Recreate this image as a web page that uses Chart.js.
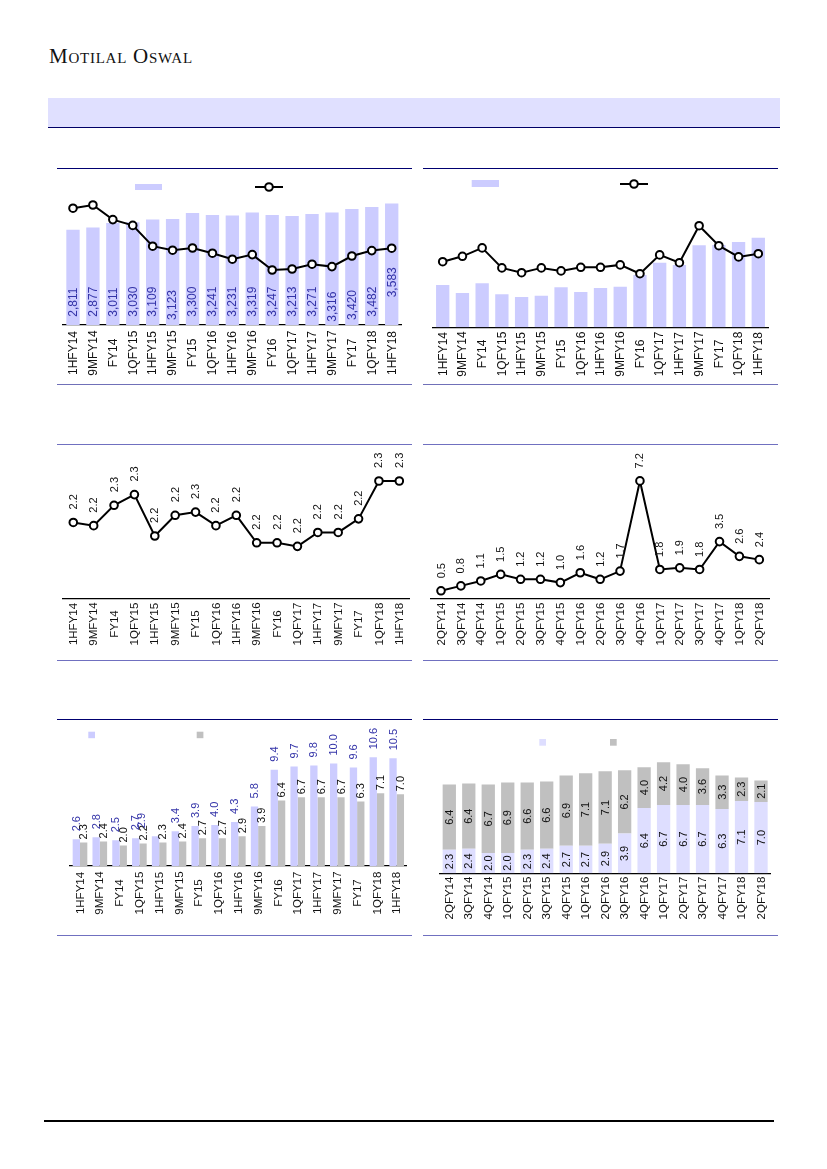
<!DOCTYPE html>
<html><head><meta charset="utf-8">
<script src="https://cdn.jsdelivr.net/npm/chart.js@4.4.0/dist/chart.umd.min.js"></script>
<style>
html,body{margin:0;padding:0;background:#fff;}
body{width:827px;height:1169px;position:relative;overflow:hidden;font-family:"Liberation Sans",Arial,sans-serif;}
canvas{position:absolute;}
.logo{position:absolute;left:49px;top:46px;line-height:21px;font-family:"Liberation Serif","Times New Roman",serif;font-variant:small-caps;font-size:21px;color:#111;letter-spacing:0.75px;white-space:nowrap;}
.band{position:absolute;left:48px;top:98px;width:732px;height:29px;background:#e0e0ff;border-bottom:1.5px solid #000066;}
.hl{position:absolute;height:1px;}
</style></head><body>
<div class="logo">Motilal Oswal</div>
<div class="band"></div>
<div class="hl" style="left:57px;top:168px;width:355px;background:#000070"></div>
<div class="hl" style="left:423px;top:168px;width:355px;background:#000070"></div>
<div class="hl" style="left:57px;top:384px;width:355px;background:#7070b8"></div>
<div class="hl" style="left:423px;top:384px;width:355px;background:#7070b8"></div>
<div class="hl" style="left:57px;top:444px;width:355px;background:#7070c0"></div>
<div class="hl" style="left:423px;top:444px;width:355px;background:#7070c0"></div>
<div class="hl" style="left:57px;top:660px;width:355px;background:#7070c0"></div>
<div class="hl" style="left:423px;top:660px;width:355px;background:#7070c0"></div>
<div class="hl" style="left:57px;top:719px;width:355px;background:#000070"></div>
<div class="hl" style="left:423px;top:719px;width:355px;background:#000070"></div>
<div class="hl" style="left:57px;top:935px;width:355px;background:#7070c0"></div>
<div class="hl" style="left:423px;top:935px;width:355px;background:#7070c0"></div>
<div class="hl" style="left:44px;top:1120px;width:730px;height:1.5px;background:#000"></div>

<canvas id="c1" width="354" height="212" style="left:58px;top:170px"></canvas>
<canvas id="c2" width="355" height="213" style="left:423px;top:170px"></canvas>
<canvas id="c3" width="354" height="212" style="left:58px;top:446px"></canvas>
<canvas id="c4" width="355" height="212" style="left:423px;top:446px"></canvas>
<canvas id="c5" width="354" height="212" style="left:58px;top:721px"></canvas>
<canvas id="c6" width="355" height="213" style="left:423px;top:721px"></canvas>

<script>
// ---------- data ----------
const periodsA = ["1HFY14","9MFY14","FY14","1QFY15","1HFY15","9MFY15","FY15","1QFY16","1HFY16","9MFY16","FY16","1QFY17","1HFY17","9MFY17","FY17","1QFY18","1HFY18"];
const quartersB = ["2QFY14","3QFY14","4QFY14","1QFY15","2QFY15","3QFY15","4QFY15","1QFY16","2QFY16","3QFY16","4QFY16","1QFY17","2QFY17","3QFY17","4QFY17","1QFY18","2QFY18"];

// chart 1
const c1Bars = [2811,2877,3011,3030,3109,3123,3300,3241,3231,3319,3247,3213,3271,3316,3420,3482,3583];
const c1Line = [5.84,6.00,5.27,4.98,3.94,3.74,3.85,3.59,3.29,3.52,2.75,2.80,3.04,2.92,3.45,3.72,3.84];
// chart 2
const c2Bars = [21.2,17.2,22.0,16.5,15.2,15.8,20.0,17.7,19.7,20.3,26.2,32.3,31.2,41.0,41.2,42.7,44.8];
const c2Line = [3.28,3.55,3.97,2.97,2.73,2.97,2.82,3.00,3.00,3.12,2.68,3.62,3.23,5.08,4.08,3.52,3.68];
// chart 3
const c3Line = [2.225,2.216,2.273,2.303,2.187,2.245,2.254,2.216,2.245,2.168,2.168,2.158,2.197,2.197,2.235,2.341,2.341];
// chart 4
const c4Line = [0.5,0.8,1.1,1.5,1.2,1.2,1.0,1.6,1.2,1.7,7.2,1.8,1.9,1.8,3.5,2.6,2.4];
// chart 5
const c5Light = [2.6,2.8,2.5,2.7,2.9,3.4,3.9,4.0,4.3,5.8,9.4,9.7,9.8,10.0,9.6,10.6,10.5];
const c5Gray  = [2.3,2.4,2.0,2.2,2.3,2.4,2.7,2.7,2.9,3.9,6.4,6.7,6.7,6.7,6.3,7.1,7.0];
// chart 6
const c6Light = [2.3,2.4,2.0,2.0,2.3,2.4,2.7,2.7,2.9,3.9,6.4,6.7,6.7,6.7,6.3,7.1,7.0];
const c6Gray  = [6.4,6.4,6.7,6.9,6.6,6.6,6.9,7.1,7.1,6.2,4.0,4.2,4.0,3.6,3.3,2.3,2.1];

// ---------- plugins ----------
const vlabels = {
  id:'vlabels',
  afterDatasetsDraw(chart, args, opts){
    const ctx = chart.ctx;
    (opts.sets||[]).forEach(s=>{
      const meta = chart.getDatasetMeta(s.ds);
      const data = chart.data.datasets[s.ds].data;
      meta.data.forEach((el,i)=>{
        const p = el.getProps(['x','y','base'], true);
        const txt = s.fmt(data[i]);
        const x = p.x + (s.dx ? (s.dx[i]||0) : 0);
        let y, align;
        if (s.mode==='above'){ y = p.y - s.gap - (s.dy ? (s.dy[i]||0) : 0); align='left'; }
        else if (s.mode==='base'){ y = p.base - (s.lift ? s.lift[i] : s.gap); align='left'; }
        else { y = (p.y + p.base)/2; align='center'; }
        ctx.save(); ctx.translate(x,y); ctx.rotate(-Math.PI/2);
        ctx.font = s.font; ctx.fillStyle = s.color; ctx.textAlign = align; ctx.textBaseline='middle';
        ctx.fillText(txt,0,0.5); ctx.restore();
      });
    });
  }
};
const xlabs = {
  id:'xlabs',
  afterDraw(chart, args, opts){
    const sc = chart.scales.x, ctx = chart.ctx;
    chart.data.labels.forEach((lab,i)=>{
      const x = sc.getPixelForValue(i);
      ctx.save(); ctx.translate(x, opts.cy); ctx.rotate(-Math.PI/2);
      ctx.font = opts.font || '11.5px "Liberation Sans", Arial'; ctx.fillStyle = opts.color || '#111';
      ctx.textAlign='center'; ctx.textBaseline='middle';
      ctx.fillText(lab,0,0.5); ctx.restore();
    });
  }
};
const legsw = {
  id:'legsw',
  afterDraw(chart, args, opts){
    const ctx = chart.ctx;
    (opts.items||[]).forEach(it=>{
      ctx.save();
      if (it.type==='rect'){ ctx.fillStyle = it.color; ctx.fillRect(it.x,it.y,it.w,it.h); }
      else {
        ctx.strokeStyle='#000'; ctx.lineWidth=2;
        ctx.beginPath(); ctx.moveTo(it.x,it.y); ctx.lineTo(it.x+it.w,it.y); ctx.stroke();
        ctx.beginPath(); ctx.arc(it.x+it.w/2,it.y,3.8,0,Math.PI*2); ctx.fillStyle='#fff'; ctx.fill(); ctx.stroke();
      }
      ctx.restore();
    });
  }
};
Chart.register(vlabels, xlabs, legsw);
Chart.defaults.font.family = '"Liberation Sans", Arial, sans-serif';

function xScale(extra){
  return Object.assign({
    offset:true,
    grid:{display:false, drawTicks:false},
    border:{display:true, color:'#000', width:1.3},
    ticks:{display:false}
  }, extra||{});
}
const lineStyle = {borderColor:'#000', borderWidth:2, pointRadius:3.8, pointBorderWidth:2,
  pointBackgroundColor:'#fff', pointBorderColor:'#000', tension:0, fill:false};
const baseOpts = (pad, scales, plugins)=>({
  responsive:false, animation:false, devicePixelRatio:1,
  layout:{padding:pad, autoPadding:false},
  events:[],
  scales,
  plugins:Object.assign({legend:{display:false}, tooltip:{enabled:false}}, plugins)
});

// ---------- chart 1 ----------
new Chart(document.getElementById('c1'), {
  type:'bar',
  data:{labels:periodsA, datasets:[
    Object.assign({type:'line', label:'', data:c1Line, yAxisID:'y2', order:0}, lineStyle),
    {type:'bar', label:'', data:c1Bars, backgroundColor:'#ccccff', borderWidth:0, yAxisID:'y',
     barPercentage:0.67, categoryPercentage:1, order:1}
  ]},
  options: baseOpts({left:5.04,right:10.34,top:9.2,bottom:57},
    {x:xScale(), y:{display:false,min:0,max:4300}, y2:{display:false,min:0,max:7.29}},
    {vlabels:{sets:[{ds:1, mode:'base', lift:[8.3,8.3,8.3,8.3,8.3,5,8.3,8.3,8.3,8.3,8.3,8.3,8.3,3.3,5,8.3,27.7],
       font:'12px "Liberation Sans", Arial', color:'#3333a8', fmt:v=>v.toLocaleString('en-US')}]},
     xlabs:{cy:183, font:'12px "Liberation Sans", Arial'},
     legsw:{items:[{type:'rect',x:77,y:14,w:27,h:6,color:'#ccccff'},{type:'line',x:197,y:17,w:28}]}})
});

// ---------- chart 2 ----------
new Chart(document.getElementById('c2'), {
  type:'bar',
  data:{labels:periodsA, datasets:[
    Object.assign({type:'line', label:'', data:c2Line, yAxisID:'y2', order:0}, lineStyle),
    {type:'bar', label:'', data:c2Bars, backgroundColor:'#ccccff', borderWidth:0, yAxisID:'y',
     barPercentage:0.675, categoryPercentage:1, order:1}
  ]},
  options: baseOpts({left:9.84,right:9.84,top:11.3,bottom:55.7},
    {x:xScale(), y:{display:false,min:0,max:73}, y2:{display:false,min:0,max:7.3}},
    {xlabs:{cy:184, font:'12px "Liberation Sans", Arial'},
     legsw:{items:[{type:'rect',x:48.7,y:10,w:27.3,h:7,color:'#ccccff'},{type:'line',x:197,y:14,w:28}]}})
});

// ---------- chart 3 ----------
new Chart(document.getElementById('c3'), {
  type:'line',
  data:{labels:periodsA, datasets:[Object.assign({label:'', data:c3Line}, lineStyle)]},
  options: baseOpts({left:5.1,right:2.5,top:9,bottom:59.7},
    {x:xScale(), y:{display:false,min:2.0126,max:2.4138}},
    {vlabels:{sets:[{ds:0, mode:'above', gap:13, font:'11px "Liberation Sans", Arial', color:'#111', fmt:v=>v.toFixed(1)}]},
     xlabs:{cy:178}})
});

// ---------- chart 4 ----------
new Chart(document.getElementById('c4'), {
  type:'line',
  data:{labels:quartersB, datasets:[Object.assign({label:'', data:c4Line}, lineStyle)]},
  options: baseOpts({left:8.05,right:8.75,top:9,bottom:59},
    {x:xScale(), y:{display:false,min:0,max:8.78}},
    {vlabels:{sets:[{ds:0, mode:'above', gap:12.5, font:'11px "Liberation Sans", Arial', color:'#111', fmt:v=>v.toFixed(1)}]},
     xlabs:{cy:178}})
});

// ---------- chart 5 ----------
new Chart(document.getElementById('c5'), {
  type:'bar',
  data:{labels:periodsA, datasets:[
    {label:'', data:c5Light, backgroundColor:'#ccccff', borderWidth:0, barPercentage:1, categoryPercentage:0.74},
    {label:'', data:c5Gray, backgroundColor:'#c0c0c0', borderWidth:0, barPercentage:1, categoryPercentage:0.74}
  ]},
  options: baseOpts({left:12.1,right:5.4,top:14,bottom:67},
    {x:xScale(), y:{display:false,min:0,max:12.78}},
    {vlabels:{sets:[
      {ds:0, mode:'above', gap:8, dx:{4:-13.8}, font:'11px "Liberation Sans", Arial', color:'#3333a8', fmt:v=>v.toFixed(1)},
      {ds:1, mode:'above', gap:3, font:'11px "Liberation Sans", Arial', color:'#111', fmt:v=>v.toFixed(1)}]},
     xlabs:{cy:172},
     legsw:{items:[{type:'rect',x:30.3,y:10.7,w:6.7,h:6.5,color:'#ccccff'},{type:'rect',x:138.7,y:10.7,w:6.7,h:6.5,color:'#c0c0c0'}]}})
});

// ---------- chart 6 ----------
new Chart(document.getElementById('c6'), {
  type:'bar',
  data:{labels:quartersB, datasets:[
    {label:'', data:c6Light, backgroundColor:'#dedeff', borderWidth:0, barPercentage:0.683, categoryPercentage:1},
    {label:'', data:c6Gray, backgroundColor:'#c0c0c0', borderWidth:0, barPercentage:0.683, categoryPercentage:1}
  ]},
  options: baseOpts({left:16.56,right:7.26,top:24,bottom:60.7},
    {x:xScale({stacked:true}), y:{display:false,stacked:true,min:0,max:12.58}},
    {vlabels:{sets:[
      {ds:0, mode:'center', font:'11px "Liberation Sans", Arial', color:'#111', fmt:v=>v.toFixed(1)},
      {ds:1, mode:'center', font:'11px "Liberation Sans", Arial', color:'#111', fmt:v=>v.toFixed(1)}]},
     xlabs:{cy:177},
     legsw:{items:[{type:'rect',x:116.3,y:18,w:6.7,h:6.7,color:'#dedeff'},{type:'rect',x:187,y:18,w:6.7,h:6.7,color:'#c0c0c0'}]}})
});
</script>
</body></html>
